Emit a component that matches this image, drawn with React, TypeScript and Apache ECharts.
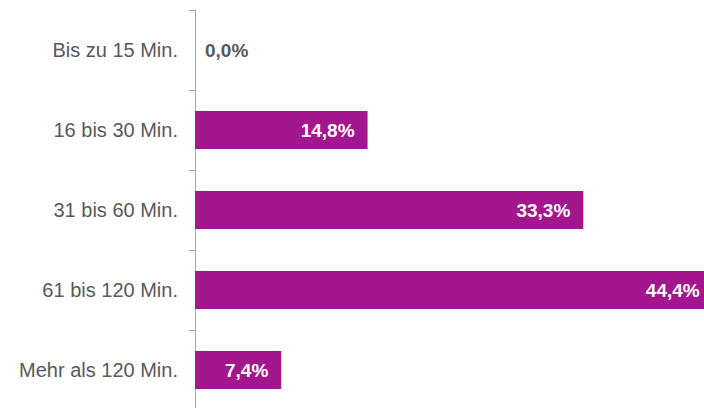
import React, { useEffect, useRef } from "react";
import * as echarts from "echarts";

const categories = ["Bis zu 15 Min.", "16 bis 30 Min.", "31 bis 60 Min.", "61 bis 120 Min.", "Mehr als 120 Min."];
const values = [0.0, 14.8, 33.3, 44.4, 7.4];

const BAR = "#A3168E";
const GRAY = "#595959";

export default function App() {
  const ref = useRef<HTMLDivElement>(null);
  useEffect(() => {
    if (!ref.current) return;
    const chart = echarts.init(ref.current, null, { renderer: "svg" });
    const fmt = (v: number) => v.toFixed(1).replace(".", ",") + "%";
    chart.setOption({
      animation: false,
      grid: { left: 195, top: 10, width: 583, height: 400 },
      xAxis: {
        type: "value",
        min: 0,
        max: 50,
        show: false,
        splitLine: { show: false },
      },
      yAxis: {
        type: "category",
        data: categories,
        inverse: true,
        axisLine: { show: true, lineStyle: { color: "#A6A6A6", width: 1 } },
        axisTick: { show: true, length: 6, lineStyle: { color: "#A6A6A6" } },
        axisLabel: {
          margin: 17,
          color: GRAY,
          fontFamily: "Liberation Sans, Arial, sans-serif",
          fontSize: 20,
        },
      },
      series: [
        {
          type: "bar",
          barWidth: 38,
          data: values.map((v) =>
            v === 0
              ? {
                  value: v,
                  label: { position: "right", color: GRAY, distance: 10 },
                }
              : { value: v }
          ),
          itemStyle: { color: BAR },
          label: {
            show: true,
            position: "insideRight",
            distance: 13,
            color: "#ffffff",
            fontWeight: "bold",
            fontFamily: "Liberation Sans, Arial, sans-serif",
            fontSize: 19,
            formatter: (p: any) => fmt(p.value),
          },
        },
      ],
    });
    return () => chart.dispose();
  }, []);
  return (
    <div style={{ position: "fixed", left: 0, top: 0, width: 704, height: 408, overflow: "hidden", background: "#fff" }}>
      <div ref={ref} style={{ width: 800, height: 420 }} />
    </div>
  );
}
